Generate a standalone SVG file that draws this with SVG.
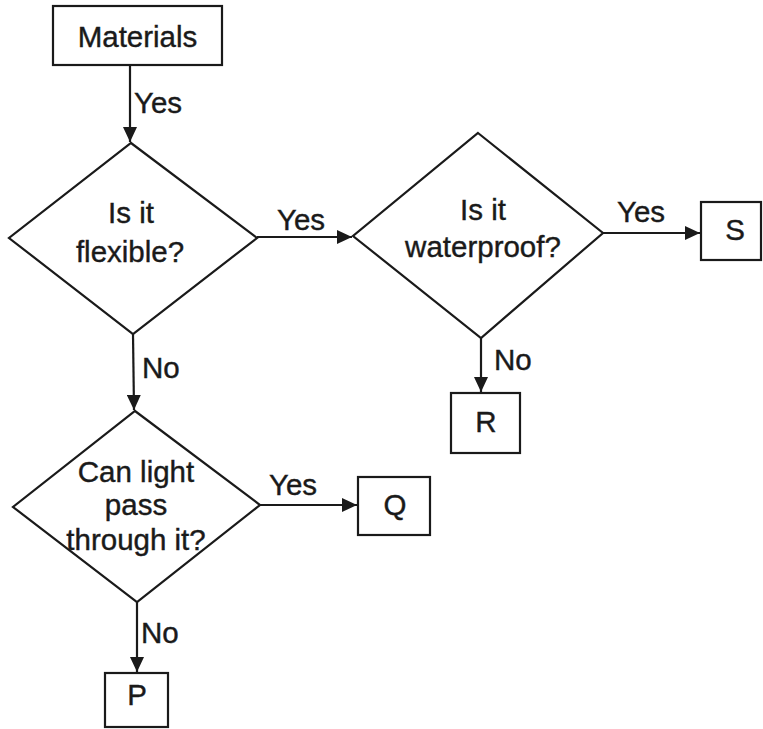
<svg xmlns="http://www.w3.org/2000/svg" width="763" height="729" viewBox="0 0 763 729">
<defs>
<style>
.box{fill:#fff;stroke:#1a1a1a;stroke-width:2.2}
.dia{fill:#fff;stroke:#1a1a1a;stroke-width:2.2;stroke-linejoin:miter}
.con{stroke:#1a1a1a;stroke-width:2.2;fill:none}
text{font-family:"Liberation Sans",Arial,sans-serif;font-size:29.5px;fill:#1a1a1a;stroke:#1a1a1a;stroke-width:0.4}
.c{text-anchor:middle}
</style>
<marker id="arr" markerUnits="userSpaceOnUse" markerWidth="16" markerHeight="14" refX="15" refY="7" orient="auto">
<path d="M0,0 L15,7 L0,14 Z" fill="#1a1a1a"/>
</marker>
</defs>
<rect width="763" height="729" fill="#fff"/>
<g id="connectors">
<line class="con" x1="130" y1="65" x2="130" y2="142" marker-end="url(#arr)"/>
<line class="con" x1="257" y1="237" x2="352" y2="237" marker-end="url(#arr)"/>
<line class="con" x1="603" y1="233" x2="700" y2="233" marker-end="url(#arr)"/>
<line class="con" x1="481" y1="338" x2="481" y2="392" marker-end="url(#arr)"/>
<line class="con" x1="133" y1="334" x2="134" y2="410" marker-end="url(#arr)"/>
<line class="con" x1="260" y1="505" x2="357" y2="505" marker-end="url(#arr)"/>
<line class="con" x1="137" y1="602" x2="137" y2="672" marker-end="url(#arr)"/>
<text x="134" y="113">Yes</text>
<text x="277" y="230">Yes</text>
<text x="617" y="222">Yes</text>
<text x="142" y="378">No</text>
<text x="494" y="370">No</text>
<text x="269" y="495">Yes</text>
<text x="141" y="643">No</text>
</g>
<g id="materials">
<rect class="box" x="53" y="6" width="169" height="59"/>
<text class="c" x="137.5" y="47">Materials</text>
</g>
<g id="flexible">
<polygon class="dia" points="131,143 257,238 133,334 9,238"/>
<text class="c" x="131" y="223">Is it</text>
<text class="c" x="130" y="262">flexible?</text>
</g>
<g id="waterproof">
<polygon class="dia" points="478,133 603,233 481,338 353,236"/>
<text class="c" x="483" y="220">Is it</text>
<text class="c" x="483" y="257">waterproof?</text>
</g>
<g id="light">
<polygon class="dia" points="135,411 260,505 137,602 13,507"/>
<text class="c" x="136" y="482">Can light</text>
<text class="c" x="136" y="515">pass</text>
<text class="c" x="136" y="550">through it?</text>
</g>
<g id="S">
<rect class="box" x="701" y="202" width="60" height="58"/>
<text class="c" x="735" y="240">S</text>
</g>
<g id="R">
<rect class="box" x="451" y="393" width="69" height="60"/>
<text class="c" x="486" y="432">R</text>
</g>
<g id="Q">
<rect class="box" x="358" y="477" width="72" height="58"/>
<text class="c" x="395" y="515">Q</text>
</g>
<g id="P">
<rect class="box" x="105" y="673" width="63" height="54"/>
<text class="c" x="137" y="705">P</text>
</g>
</svg>
